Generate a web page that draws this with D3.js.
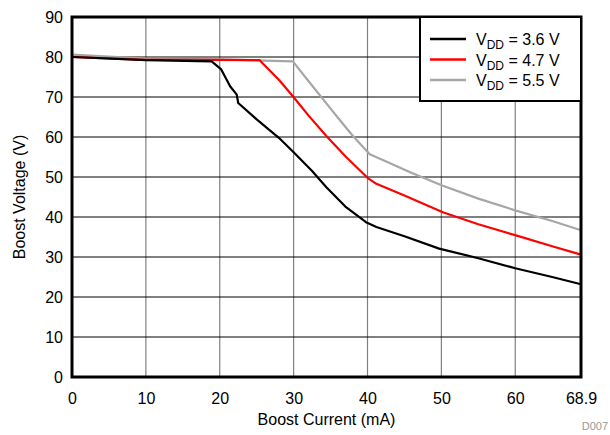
<!DOCTYPE html>
<html>
<head>
<meta charset="utf-8">
<script src="https://cdn.jsdelivr.net/npm/d3@7"></script>
<style>
  body { margin: 0; background: #fff; }
  text { font-family: "Liberation Sans", Arial, sans-serif; }
</style>
</head>
<body>
<div id="chart"></div>
<script>
const w = 610;
const h = 435;
const margin = { left: 72, top: 17, right: 29, bottom: 58 };

const xTicks = [0, 10, 20, 30, 40, 50, 60, 68.9];
const yTicks = [0, 10, 20, 30, 40, 50, 60, 70, 80, 90];

// current (mA) / voltage (V) pairs for each supply
const vdd36 = [[0, 80], [10, 79.2], [18.9, 78.9], [20.2, 76.9], [21.4, 72.7], [22.3, 70.6],
  [22.5, 68.5], [25, 64.4], [28, 59.8], [30, 56.2], [32.5, 51.5], [34.4, 47.5], [37, 42.6],
  [39.8, 38.7], [41.2, 37.5], [45, 35.2], [49.7, 32.1], [55, 29.7], [60, 27.2], [65, 25.0], [68.9, 23.2]];
const vdd47 = [[0, 80], [10, 79.3], [20, 79.3], [25.4, 79.2], [28, 74.3], [29.9, 70.2],
  [32, 65.4], [34.4, 60.3], [37, 55.2], [40, 49.8], [41.2, 48.3], [45, 45.4], [50.2, 41.2],
  [55, 38.2], [60.1, 35.4], [65, 32.7], [68.9, 30.6]];
const vdd55 = [[0, 80.6], [10, 79.6], [20, 79.4], [29.9, 78.9], [32, 74], [34, 69.4],
  [36, 64.8], [38, 60.3], [40.3, 55.7], [42, 54.3], [46, 51], [50.2, 47.8], [55, 44.6],
  [60.1, 41.6], [65, 39], [68.9, 36.7]];

const series = [
  { name: '3.6 V', data: vdd36, color: '#000000' },
  { name: '4.7 V', data: vdd47, color: '#ff0000' },
  { name: '5.5 V', data: vdd55, color: '#a6a6a6' }
];

const xScale = d3.scaleLinear().domain([0, 68.9]).range([margin.left, w - margin.right]);
const yScale = d3.scaleLinear().domain([0, 90]).range([h - margin.bottom, margin.top]);

const svg = d3.select('#chart').append('svg').attr('width', w).attr('height', h);

// grid
svg.append('g').selectAll('line').data(xTicks.slice(1, -1)).enter().append('line')
  .attr('x1', d => xScale(d)).attr('x2', d => xScale(d))
  .attr('y1', yScale(0)).attr('y2', yScale(90))
  .attr('stroke', '#808080').attr('stroke-width', 1.2);
svg.append('g').selectAll('line').data(yTicks.slice(1, -1)).enter().append('line')
  .attr('x1', xScale(0)).attr('x2', xScale(68.9))
  .attr('y1', d => yScale(d)).attr('y2', d => yScale(d))
  .attr('stroke', '#000').attr('stroke-width', 1);

const xAxis = d3.axisBottom(xScale).tickValues(xTicks).tickSize(0).tickPadding(16)
  .tickFormat(d => d === 68.9 ? '68.9' : d);
const yAxis = d3.axisLeft(yScale).tickValues(yTicks).tickSize(0).tickPadding(9);

svg.append('g').attr('transform', 'translate(0,' + (h - margin.bottom) + ')').call(xAxis)
  .call(g => g.select('.domain').remove())
  .selectAll('text').attr('font-size', 16).attr('fill', '#000');
svg.append('g').attr('transform', 'translate(' + margin.left + ',0)').call(yAxis)
  .call(g => g.select('.domain').remove())
  .selectAll('text').attr('font-size', 16).attr('fill', '#000');

const line = d3.line().x(d => xScale(d[0])).y(d => yScale(d[1]));

svg.append('g').selectAll('path').data(series.slice().reverse()).enter().append('path')
  .attr('d', d => line(d.data))
  .attr('fill', 'none')
  .attr('stroke', d => d.color)
  .attr('stroke-width', 2.2)
  .attr('stroke-linejoin', 'round');

// frame
svg.append('rect')
  .attr('x', xScale(0)).attr('y', yScale(90))
  .attr('width', xScale(68.9) - xScale(0)).attr('height', yScale(0) - yScale(90))
  .attr('fill', 'none').attr('stroke', '#000').attr('stroke-width', 3);

// legend
const lg = svg.append('g').attr('transform', 'translate(420,17)');
lg.append('rect').attr('width', 161).attr('height', 84)
  .attr('fill', '#fff').attr('stroke', '#000').attr('stroke-width', 2);
series.forEach((s, i) => {
  const y = 22 + i * 20.5;
  lg.append('line').attr('x1', 10).attr('x2', 46).attr('y1', y).attr('y2', y)
    .attr('stroke', s.color).attr('stroke-width', 2.5);
  const t = lg.append('text').attr('x', 56).attr('y', y + 6).attr('font-size', 16);
  t.append('tspan').text('V');
  t.append('tspan').attr('font-size', 12).attr('dy', 4).text('DD');
  t.append('tspan').attr('dy', -4).text(' = ' + s.name);
});

// titles
svg.append('text').attr('x', (xScale(0) + xScale(68.9)) / 2).attr('y', 425)
  .attr('text-anchor', 'middle').attr('font-size', 16).text('Boost Current (mA)');
svg.append('text')
  .attr('transform', 'translate(25,' + ((yScale(0) + yScale(90)) / 2) + ') rotate(-90)')
  .attr('text-anchor', 'middle').attr('font-size', 16).text('Boost Voltage (V)');
svg.append('text').attr('x', 608).attr('y', 430).attr('text-anchor', 'end')
  .attr('font-size', 11).attr('fill', '#999').text('D007');
</script>
</body>
</html>
